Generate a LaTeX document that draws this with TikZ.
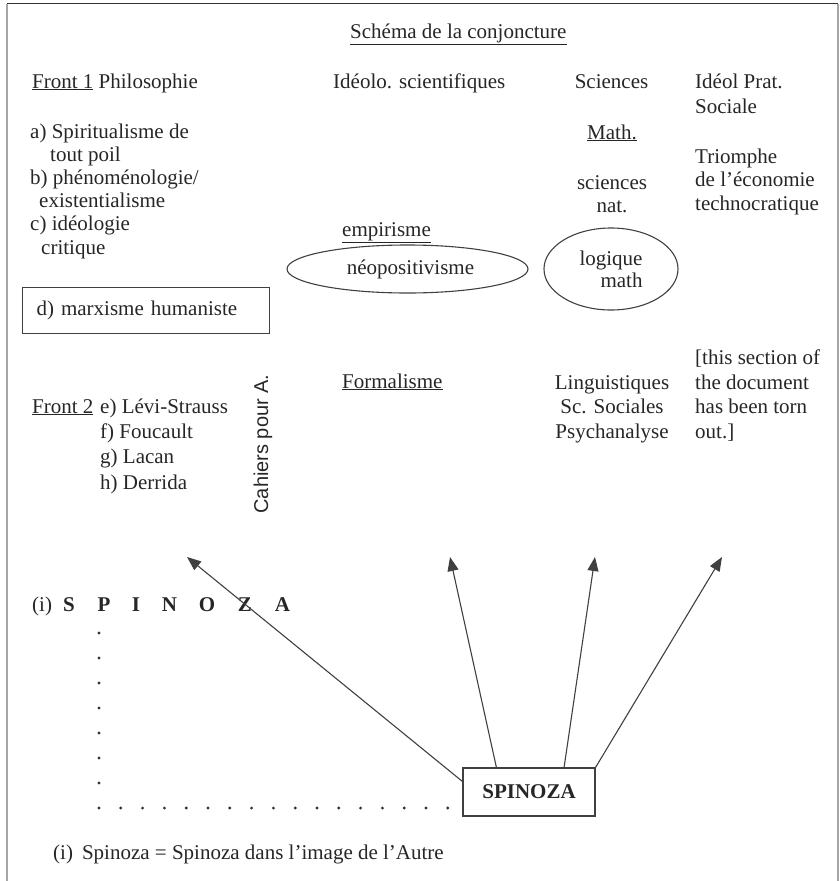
\documentclass[tikz,border=0pt]{standalone}
\usepackage{fontspec}
\setmainfont{Liberation Serif}
\newfontfamily\cahierfont{Liberation Sans}
\usepackage{tikz}
\usetikzlibrary{arrows.meta,shapes.geometric}

\begin{document}
\begin{tikzpicture}[x=1pt,y=-1pt,
    txt/.style={inner sep=0pt, text=black!85, font=\fontsize{21}{24.5}\selectfont},
    lst/.style={txt, align=left, anchor=base west},
    lin/.style={draw=black!75, line width=1.1pt},
    arr/.style={lin, -{Triangle[length=14pt,width=11pt]}}]
    \useasboundingbox (0,0) rectangle (839,881);
    % frame
    \draw [gray!70, line width=2.5pt] (7,881) -- (7,3.5);
    \draw [black!80, line width=1.5pt] (7,3.5) -- (837.5,3.5);
    \draw [gray!70, line width=2pt] (837.5,3.5) -- (837.5,881);
    \node [lst] (title) at (350,38) {\underline{Schéma de la conjoncture}};
    % column heads
    \node [lst] (front1) at (32,88) {\underline{Front 1} Philosophie};
    \node [lst] (ideolo) at (333,88) {Idéolo. scientifiques};
    \node [txt, anchor=base] (sciences) at (611.5,88) {Sciences};
    \node [lst] (pratique) at (695,113) {Idéol Prat.\\Sociale};
    % front 1
    \node [lst, font=\fontsize{21}{23.2}\selectfont] (courants) at (30,254)
      {a) Spiritualisme de\\\hspace*{20pt}tout poil\\b) phénoménologie/\\\hspace*{9pt}existentialisme\\c) idéologie\\\hspace*{11pt}critique};
    \node [txt, draw=black!75, line width=1.1pt, anchor=north west, minimum width=247pt,
      minimum height=46pt, text width=219pt, inner xsep=14pt, align=left] (marx) at (22,287)
      {d) marxisme humaniste};
    % sciences
    \node [txt, anchor=base] (math) at (612,139) {\underline{Math.}};
    \node [txt, align=center, anchor=base, font=\fontsize{21}{23}\selectfont] (scnat) at (612,212) {sciences\\nat.};
    \node [lst, font=\fontsize{21}{23.5}\selectfont] (triomphe) at (695,210) {Triomphe\\de l’économie\\technocratique};
    \node [lst] (empir) at (342,236) {\underline{empirisme}};
    \node [txt, lin, ellipse, minimum width=241pt, minimum height=48pt] (neo) at (407.5,269) {\hspace*{6pt}néopositivisme};
    \node [txt, lin, ellipse, minimum width=134pt, minimum height=82pt, align=right,
      font=\fontsize{21}{22}\selectfont] (logique) at (611,269) {logique\\math};
    % front 2
    \node [lst] (formal) at (342,388) {\underline{Formalisme}};
    \node [txt, align=center, anchor=base] (ling) at (612,438) {Linguistiques\\Sc. Sociales\\Psychanalyse};
    \node [lst] (torn) at (695,438) {[this section of\\the document\\has been torn\\out.]};
    \node [lst] (front2) at (32,413) {\underline{Front 2}};
    \node [lst, font=\fontsize{21}{25.3}\selectfont] (auteurs) at (100,489) {e) Lévi-Strauss\\f) Foucault\\g) Lacan\\h) Derrida};
    \node [txt, rotate=90, font=\cahierfont\fontsize{20}{24}\selectfont] (cahiers) at (263,444) {Cahiers pour A.};
    % spinoza
    \node [lst] (renvoi) at (32,611) {(i)};
    \foreach \l/\x [count=\i] in {S/69,P/104,I/136,N/169.5,O/207,Z/245,A/282.5}
      \node [txt, anchor=base, font=\fontsize{21}{24}\selectfont\bfseries] (lettre\i) at (\x,611) {\l};
    \foreach \k in {0,...,6}
      \fill [black!80] (99,633+25*\k) circle (1.6pt);
    \foreach \k in {0,...,16}
      \fill [black!80] (99+21.8*\k,808) circle (1.6pt);
    \node [txt, lin, minimum width=132pt, minimum height=48pt, font=\fontsize{21}{24}\selectfont\bfseries] (spin) at (529,792) {SPINOZA};
    \coordinate (cible1) at (187,557);
    \coordinate (cible2) at (450,557);
    \coordinate (cible3) at (595,557);
    \coordinate (cible4) at (722,557);
    \draw [arr] (spin.171) -- (cible1);
    \draw [arr] (spin.143) -- (cible2);
    \draw [arr] (spin.35) -- (cible3);
    \draw [arr] (spin.north east) -- (cible4);
    \node [lst] (note) at (53,859) {(i)\hspace{9pt}Spinoza = Spinoza dans l’image de l’Autre};
\end{tikzpicture}
\end{document}
